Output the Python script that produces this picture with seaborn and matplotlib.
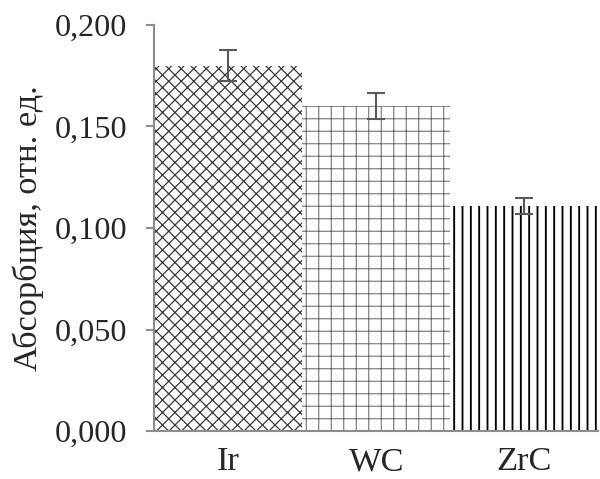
import numpy as np
import pandas as pd
import matplotlib
matplotlib.use("Agg")
import matplotlib.pyplot as plt
import seaborn as sns

# data
materials = ["Ir", "WC", "ZrC"]
absorption = [0.180, 0.160, 0.111]
errors = [0.0075, 0.0065, 0.004]

hatches = ["xxxx", "++", "|||"]
hatch_colors = ["#3a3a3a", "#6a6a6a", "#000000"]
hatch_widths = [0.6, 0.5, 0.9]

sns.set_style("white")
plt.rcParams["font.family"] = ["Liberation Serif", "DejaVu Serif"]
plt.rcParams["hatch.linewidth"] = 0.6

df = pd.DataFrame({"material": materials, "absorption": absorption})

fig = plt.figure(figsize=(4, 479 / 150), dpi=150)
ax = fig.add_axes([0.257, 0.1, 0.74, 0.848])

sns.barplot(data=df, x="material", y="absorption", color="white",
            width=1.0, errorbar=None, ax=ax)

for bar, h, c, w in zip(ax.patches, hatches, hatch_colors, hatch_widths):
    bar.set_hatch(h)
    bar.set_edgecolor(c)
    bar.set_linewidth(0)
    bar.set_facecolor("white")
    if hasattr(bar, "set_hatch_linewidth"):
        bar.set_hatch_linewidth(w)

ax.errorbar(np.arange(len(materials)), absorption, yerr=errors, fmt="none",
            ecolor="#595959", elinewidth=1.0, capsize=4.5, capthick=1.0)

ax.set_xlim(-0.5, 2.5)
ax.set_ylim(0, 0.2)
ax.set_yticks([0, 0.05, 0.1, 0.15, 0.2])
ax.set_yticklabels(["0,000", "0,050", "0,100", "0,150", "0,200"], fontsize=15.5)
ax.set_xticks(range(3))
ax.set_xticklabels(materials, fontsize=16.5)
ax.set_xlabel("")
ax.set_ylabel("Абсорбция, отн. ед.", fontsize=16.5, labelpad=5)

for s in ["top", "right"]:
    ax.spines[s].set_visible(False)
for s in ["left", "bottom"]:
    ax.spines[s].set_color("#8c8c8c")
    ax.spines[s].set_linewidth(1.0)

ax.tick_params(axis="y", left=True, length=4, width=1.0, color="#8c8c8c", pad=9)
ax.tick_params(axis="x", bottom=False, pad=4)

fig.savefig("out.png", dpi=150)
